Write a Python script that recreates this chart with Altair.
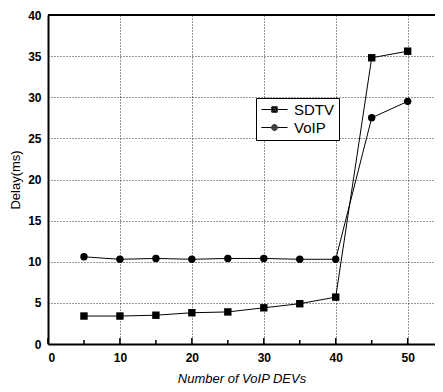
import altair as alt
import pandas as pd

devs = [5, 10, 15, 20, 25, 30, 35, 40, 45, 50]
sdtv = [3.4, 3.4, 3.5, 3.8, 3.9, 4.4, 4.9, 5.7, 34.8, 35.6]
voip = [10.6, 10.3, 10.4, 10.3, 10.4, 10.4, 10.3, 10.3, 27.5, 29.5]
series = ["SDTV", "VoIP"]
x_grid = [0, 5, 10, 15, 20, 25, 30, 35, 40, 45, 50]
x_major = [0, 10, 20, 30, 40, 50]
x_minor = [5, 15, 25, 35, 45]
y_ticks = [0, 5, 10, 15, 20, 25, 30, 35, 40]

df = pd.DataFrame({
    "devs": devs * 2,
    "delay": sdtv + voip,
    "series": ["SDTV"] * len(devs) + ["VoIP"] * len(devs),
})

W, H = 387, 329
FONT = "Liberation Sans"
xs = alt.Scale(domain=[0, 53.8], nice=False, zero=False)
ys = alt.Scale(domain=[0, 40], nice=False)

x_axis = alt.Axis(values=x_grid, labelExpr="datum.value % 10 === 0 ? datum.label : ''",
                  title="Number of VoIP DEVs", grid=True, gridDash=[1, 2], gridColor="black",
                  gridOpacity=0.8, ticks=False, domainColor="black", domainWidth=2,
                  labelFont=FONT, labelFontSize=12, labelFontWeight="bold", labelColor="black",
                  labelPadding=8, titleFont=FONT, titleFontSize=13, titleFontStyle="italic",
                  titleFontWeight="normal", titleColor="black", titlePadding=9)
y_axis = alt.Axis(values=y_ticks, title="Delay(ms)", grid=True, gridDash=[1, 2], gridColor="black",
                  gridOpacity=0.8, ticks=False, domainColor="black", domainWidth=2,
                  labelFont=FONT, labelFontSize=12, labelFontWeight="bold", labelColor="black",
                  labelPadding=7, titleFont=FONT, titleFontSize=13, titleFontWeight="normal",
                  titleColor="black", titlePadding=5)

base = alt.Chart(df)
lines = base.mark_line(color="black", strokeWidth=1).encode(
    x=alt.X("devs:Q", scale=xs, axis=x_axis),
    y=alt.Y("delay:Q", scale=ys, axis=y_axis),
    detail="series:N",
)
points = base.mark_point(filled=True, color="black", size=55, opacity=1).encode(
    x=alt.X("devs:Q", scale=xs),
    y=alt.Y("delay:Q", scale=ys),
    shape=alt.Shape("series:N", scale=alt.Scale(domain=series, range=["square", "circle"]), legend=None),
)


def sq(h):
    return f"M-{h},-{h}H{h}V{h}H-{h}Z"


def ci(r):
    return f"M{r},0A{r},{r} 0 1,1 -{r},0A{r},{r} 0 1,1 {r},0Z"


sq_path = "M-2,0H-0.5M0.5,0H2" + "".join(sq(h) for h in [0.42, 0.3, 0.18, 0.06])
ci_path = "M-2,0H-0.55M0.55,0H2" + "".join(ci(r) for r in [0.45, 0.32, 0.19, 0.07])
legend_layer = base.mark_point(filled=False, color="black", opacity=0).encode(
    x=alt.X("devs:Q", scale=xs),
    y=alt.Y("delay:Q", scale=ys),
    shape=alt.Shape("series:N", scale=alt.Scale(domain=series, range=[sq_path, ci_path]),
                    legend=alt.Legend(title=None, orient="none", legendX=208, legendY=83,
                                      strokeColor="black", padding=4,
                                      fillColor="white",
                                      labelFont=FONT, labelFontSize=15, labelColor="black",
                                      symbolSize=170, symbolOpacity=1,
                                      symbolStrokeColor="black", symbolStrokeWidth=1,
                                      symbolOffset=7, labelOffset=12)),
)
major_ticks = alt.Chart(pd.DataFrame({"t": x_major})).mark_rule(color="black", strokeWidth=1.5).encode(
    x=alt.X("t:Q", scale=xs), y=alt.value(H), y2=alt.value(H - 6)
)
minor_ticks = alt.Chart(pd.DataFrame({"t": x_minor})).mark_rule(color="black", strokeWidth=1.5).encode(
    x=alt.X("t:Q", scale=xs), y=alt.value(H), y2=alt.value(H - 4)
)
top_rule = alt.Chart(pd.DataFrame({"a": [0]})).mark_rule(color="black", strokeWidth=2).encode(
    x=alt.value(0), x2=alt.value(W), y=alt.value(0)
)

chart = alt.layer(major_ticks, minor_ticks, lines, points, legend_layer, top_rule).resolve_scale(
    shape="independent"
).properties(
    width=W, height=H,
    autosize=alt.AutoSizeParams(type="none"),
    padding={"left": 40, "top": 7, "right": 0, "bottom": 47},
).configure_view(stroke=None).configure(background="white")

chart.save("out.html", embed_options={"renderer": "svg", "actions": False})
